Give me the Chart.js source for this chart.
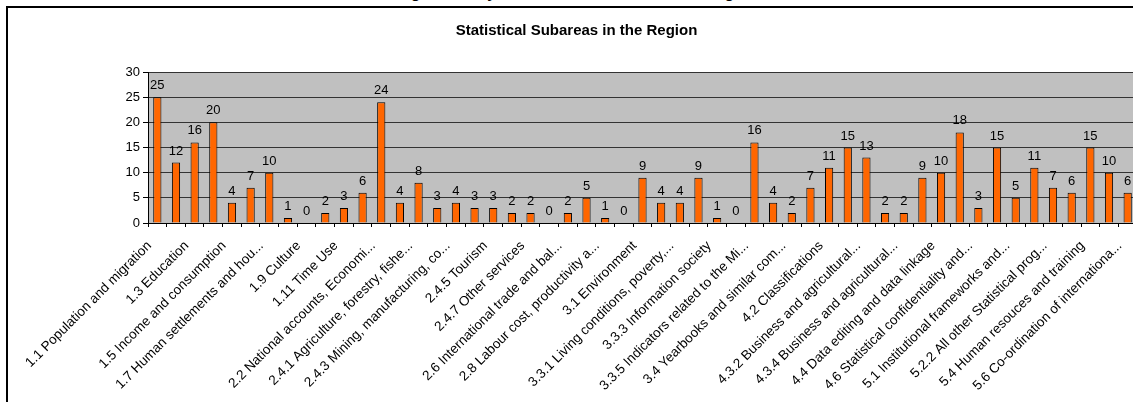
<!DOCTYPE html>
<html>
<head>
<meta charset="utf-8">
<script src="https://cdn.jsdelivr.net/npm/chart.js@4"></script>
<style>
  html, body {
    margin: 0;
    width: 1133px;
    height: 402px;
    overflow: hidden;
    background: #fff;
    font-family: "Liberation Sans", Arial, sans-serif;
  }
  /* top of the page title, cut off by the window */
  #cut-title {
    position: absolute;
    left: 384px;
    top: -15px;
    font: bold 16px/16px "Liberation Sans", Arial, sans-serif;
    white-space: nowrap;
  }
  #frame {
    position: absolute;
    left: 6px;
    top: 6px;
    width: 1137px;
    height: 420px;
    border-left: 2px solid #000;
    border-top: 2px solid #000;
    background: #fff;
  }
</style>
</head>
<body>
<div id="cut-title">Programme by Statistical Subareas in the Region</div>
<div id="frame"><canvas id="chart"></canvas></div>
<script>
const categories = [
  '1.1 Population and migration', '1.2 Labour', '1.3 Education', '1.4 Health',
  '1.5 Income and consumption', '1.6 Social protection', '1.7 Human settlements and hou...',
  '1.8 Justice and crime', '1.9 Culture', '1.10 Political and other comm...', '1.11 Time Use',
  '2.1 Macroeconomic statistics', '2.2 National accounts, Economi...', '2.3 Business statistics',
  '2.4.1 Agriculture, forestry, fishe...', '2.4.2 Energy', '2.4.3 Mining, manufacturing, co...',
  '2.4.4 Transport', '2.4.5 Tourism', '2.4.6 Banking, insurance, fina...', '2.4.7 Other services',
  '2.5 Government finance, fiscal...', '2.6 International trade and bal...', '2.7 Prices',
  '2.8 Labour cost, productivity a...', '2.9 Science, technology and i...', '3.1 Environment',
  '3.2 Regional and small area st...', '3.3.1 Living conditions, poverty,...',
  '3.3.2 Gender and special popu...', '3.3.3 Information society', '3.3.4 Globalisation',
  '3.3.5 Indicators related to the Mi...', '3.3.6 Sustainable development',
  '3.4 Yearbooks and similar com...', '4.1 Metadata', '4.2 Classifications',
  '4.3.1 Population and housing...', '4.3.2 Business and agricultural...',
  '4.3.3 Household surveys', '4.3.4 Business and agricultural...',
  '4.3.5 Other administrative sou...', '4.4 Data editing and data linkage',
  '4.5 Dissemination, data wareh...', '4.6 Statistical confidentiality and...',
  '4.7 Data analysis', '5.1 Institutional frameworks and...', '5.2.1 Statistical programmes',
  '5.2.2 All other Statistical prog...', '5.3 Quality frameworks and m...',
  '5.4 Human resouces and training', '5.5 Technological resources',
  '5.6 Co-ordination of internationa...'
];

const counts = [
  25, 12, 16, 20, 4, 7, 10, 1, 0, 2, 3, 6, 24, 4, 8, 3, 4, 3, 3, 2, 2, 0, 2, 5, 1, 0,
  9, 4, 4, 9, 1, 0, 16, 4, 2, 7, 11, 15, 13, 2, 2, 9, 10, 18, 3, 15, 5, 11, 7, 6, 15, 10, 6
];

const yTicks = [0, 5, 10, 15, 20, 25, 30];

const FONT = '"Liberation Sans", Arial, sans-serif';

// value labels above each bar
const barValues = {
  id: 'barValues',
  afterDatasetsDraw(chart) {
    const {ctx} = chart;
    const meta = chart.getDatasetMeta(0);
    ctx.save();
    ctx.font = '13px ' + FONT;
    ctx.fillStyle = '#000';
    ctx.textAlign = 'center';
    ctx.textBaseline = 'alphabetic';
    meta.data.forEach((bar, i) => {
      ctx.fillText(String(counts[i]), bar.x, bar.y - 8);
    });
    ctx.restore();
  }
};

// grey plot background
const plotBg = {
  id: 'plotBg',
  beforeDraw(chart) {
    const {ctx, chartArea: a} = chart;
    ctx.save();
    ctx.fillStyle = '#c0c0c0';
    ctx.fillRect(a.left, a.top, a.right - a.left, a.bottom - a.top);
    ctx.restore();
  }
};

new Chart(document.getElementById('chart'), {
  type: 'bar',
  data: {
    labels: categories,
    datasets: [{
      data: counts,
      backgroundColor: '#ff6600',
      borderColor: '#000',
      borderWidth: 1,
      barPercentage: 0.44,
      categoryPercentage: 1
    }]
  },
  options: {
    responsive: true,
    maintainAspectRatio: false,
    animation: false,
    layout: {padding: {left: 8, right: 8, top: 0, bottom: 0}},
    plugins: {
      legend: {display: false},
      tooltip: {enabled: false},
      title: {
        display: true,
        text: 'Statistical Subareas in the Region',
        color: '#000',
        font: {family: FONT, size: 15, weight: 'bold'},
        padding: {top: 14, bottom: 32}
      }
    },
    scales: {
      x: {
        afterFit(scale) { scale.height = 420 - 215; },
        grid: {display: true, drawOnChartArea: false, drawTicks: true, tickLength: 4, tickColor: '#000', offset: true},
        border: {display: true, color: '#000'},
        ticks: {
          autoSkip: false,
          minRotation: 45,
          maxRotation: 45,
          color: '#000',
          padding: 3,
          font: {family: FONT, size: 13.5},
          // every other category is labelled; trailing spaces pull the text back from the tick
          callback: (v, i) => (i % 2 === 0 ? categories[i] + '   ' : '')
        }
      },
      y: {
        min: 0,
        max: 30,
        afterFit(scale) { scale.width = 132; },
        afterBuildTicks(scale) { scale.ticks = yTicks.map(v => ({value: v})); },
        grid: {color: '#333', tickColor: '#000', tickLength: 5},
        border: {display: true, color: '#000'},
        ticks: {color: '#000', padding: 3, font: {family: FONT, size: 13}}
      }
    }
  },
  plugins: [plotBg, barValues]
});
</script>
</body>
</html>
